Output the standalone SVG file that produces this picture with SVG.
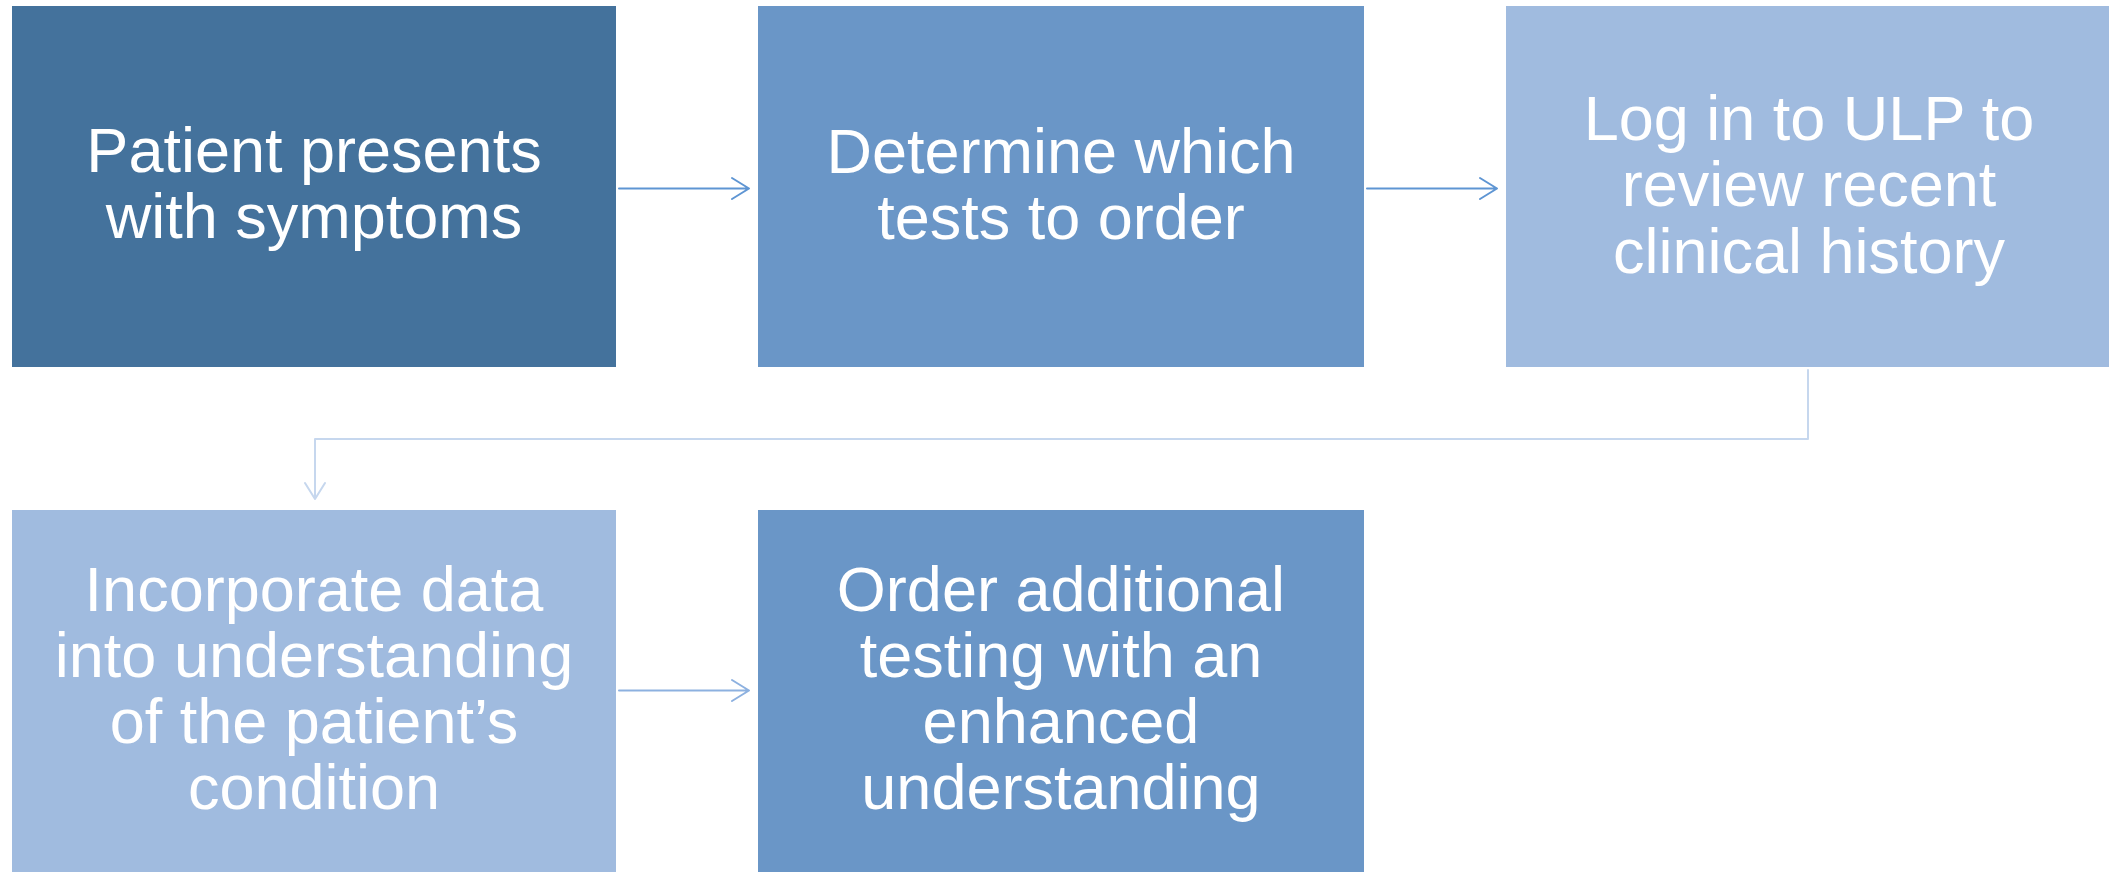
<svg xmlns="http://www.w3.org/2000/svg" width="2109" height="872" viewBox="0 0 2109 872">
<style>
.t{font-family:"Liberation Sans",Arial,sans-serif;font-size:63px;fill:#ffffff;text-anchor:middle}
.c{fill:none;stroke-width:2;stroke-linecap:round;stroke-linejoin:round}
</style>
<rect width="2109" height="872" fill="#ffffff"/>
<g id="n1"><rect x="12" y="6" width="604" height="361" fill="#44729C"/>
<text class="t" x="314" y="172">Patient presents</text><text class="t" x="314" y="238">with symptoms</text></g>
<g id="n2"><rect x="758" y="6" width="606" height="361" fill="#6A96C7"/>
<text class="t" x="1061" y="173">Determine which</text><text class="t" x="1061" y="239">tests to order</text></g>
<g id="n3"><rect x="1506" y="6" width="603" height="361" fill="#A0BBDF"/>
<text class="t" x="1809" y="140">Log in to ULP to</text><text class="t" x="1809" y="206">review recent</text><text class="t" x="1809" y="273">clinical history</text></g>
<g id="n4"><rect x="12" y="510" width="604" height="362" fill="#A0BBDF"/>
<text class="t" x="314" y="611">Incorporate data</text><text class="t" x="314" y="677">into understanding</text><text class="t" x="314" y="743">of the patient’s</text><text class="t" x="314" y="809">condition</text></g>
<g id="n5"><rect x="758" y="510" width="606" height="362" fill="#6A96C7"/>
<text class="t" x="1061" y="611">Order additional</text><text class="t" x="1061" y="677">testing with an</text><text class="t" x="1061" y="743">enhanced</text><text class="t" x="1061" y="809">understanding</text></g>
<g id="connectors">
<path class="c" stroke="#5E95D3" d="M619 188.5H749M732 178L749 188.5L732 199"/>
<path class="c" stroke="#5E95D3" d="M1367 188.5H1497M1480 178L1497 188.5L1480 199"/>
<path class="c" stroke="#C6D7EE" d="M1808 370V439H315V499M305 483L315 499L325 483"/>
<path class="c" stroke="#8DB1E0" d="M619 690.5H749M732 680L749 690.5L732 701"/>
</g>
</svg>
